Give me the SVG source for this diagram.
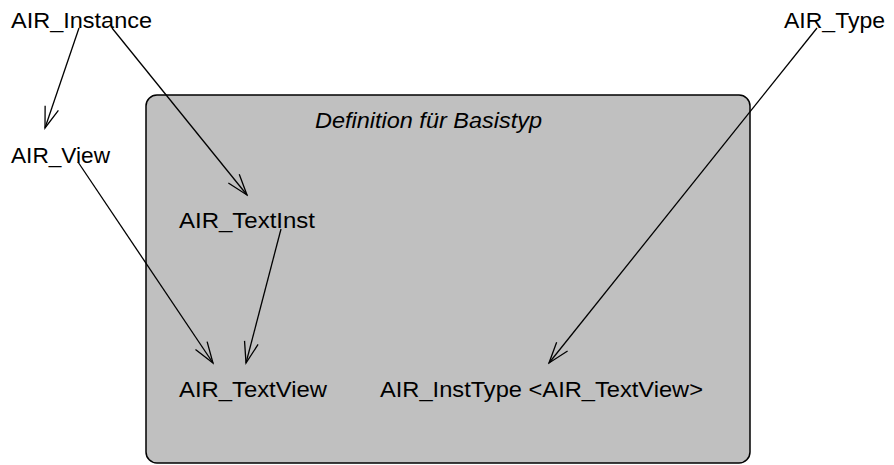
<svg xmlns="http://www.w3.org/2000/svg" width="894" height="465" viewBox="0 0 894 465">
<defs>
<style>
text{font-family:"Liberation Sans",Arial,sans-serif;font-size:22px;fill:#000}
.it{font-style:italic}
.c{fill:none;stroke:#000;stroke-width:1.3}
</style>
<marker id="ah" markerUnits="userSpaceOnUse" viewBox="-23 -9 25 18" refX="0" refY="0" markerWidth="25" markerHeight="18" orient="auto">
<path d="M-21,-7 L0,0 L-21,7" fill="none" stroke="#000" stroke-width="1.3"/>
</marker>
</defs>
<rect width="894" height="465" fill="#fff"/>
<g id="Definition">
<rect x="146" y="95" width="604" height="368" rx="11" fill="#c0c0c0" stroke="#000" stroke-width="1.5"/>
<text class="it" x="315" y="128" textLength="227" lengthAdjust="spacingAndGlyphs">Definition für Basistyp</text>
</g>
<g id="AIR_Instance"><text x="11" y="28" textLength="141" lengthAdjust="spacingAndGlyphs">AIR_Instance</text></g>
<g id="AIR_Type"><text x="784" y="28" textLength="101" lengthAdjust="spacingAndGlyphs">AIR_Type</text></g>
<g id="AIR_View"><text x="11" y="163" textLength="99" lengthAdjust="spacingAndGlyphs">AIR_View</text></g>
<g id="AIR_TextInst"><text x="179" y="228" textLength="136" lengthAdjust="spacingAndGlyphs">AIR_TextInst</text></g>
<g id="AIR_TextView"><text x="179" y="397" textLength="148" lengthAdjust="spacingAndGlyphs">AIR_TextView</text></g>
<g id="AIR_InstType"><text x="380" y="397" textLength="323" lengthAdjust="spacingAndGlyphs">AIR_InstType &lt;AIR_TextView&gt;</text></g>
<g id="connectors">
<line class="c" x1="79" y1="28" x2="45" y2="128" marker-end="url(#ah)"/>
<line class="c" x1="112" y1="28" x2="247" y2="195" marker-end="url(#ah)"/>
<line class="c" x1="78" y1="162" x2="213" y2="363" marker-end="url(#ah)"/>
<line class="c" x1="281" y1="229" x2="246" y2="363" marker-end="url(#ah)"/>
<line class="c" x1="817" y1="28" x2="549" y2="363" marker-end="url(#ah)"/>
</g>
</svg>
